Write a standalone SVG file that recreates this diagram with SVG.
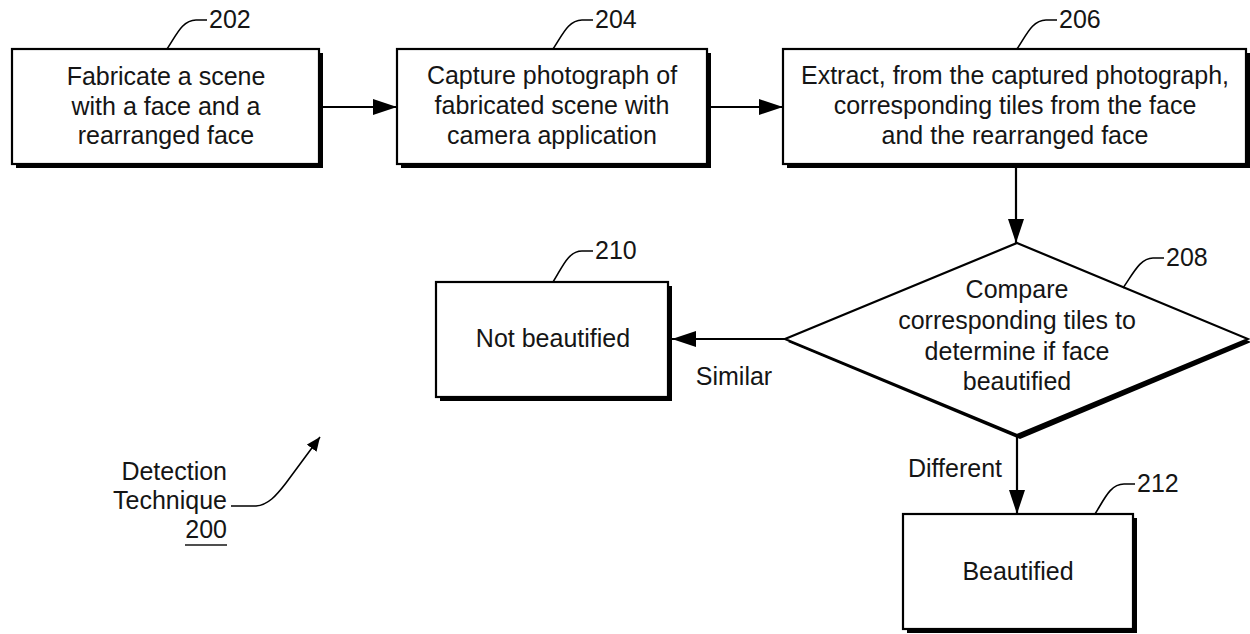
<svg xmlns="http://www.w3.org/2000/svg" width="1250" height="634" viewBox="0 0 1250 634">
  <style>
    text { font-family: "Liberation Sans", Arial, sans-serif; font-size: 25px; fill: #151515; }
    .c { text-anchor: middle; }
    .r { text-anchor: end; }
    .shadow { fill: #000; }
    .box { fill: #fff; stroke: #000; stroke-width: 2.2; }
    .conn { fill: none; stroke: #000; stroke-width: 2.2; }
    .lead { fill: none; stroke: #000; stroke-width: 1.6; }
  </style>
  <defs>
    <marker id="arrow" viewBox="0 0 24 16" refX="24" refY="8" markerWidth="24" markerHeight="16" markerUnits="userSpaceOnUse" orient="auto">
      <path d="M0,0 L24,8 L0,16 Z" fill="#000"/>
    </marker>
    <marker id="arrowSmall" viewBox="0 0 14 12" refX="14" refY="6" markerWidth="14" markerHeight="12" markerUnits="userSpaceOnUse" orient="auto">
      <path d="M0,0 L14,6 L0,12 Z" fill="#000"/>
    </marker>
  </defs>

  <rect width="1250" height="634" fill="#fff"/>

  <!-- connectors -->
  <g id="connectors">
    <path class="conn" d="M323,107 L397,107" marker-end="url(#arrow)"/>
    <path class="conn" d="M711,107 L783,107" marker-end="url(#arrow)"/>
    <path class="conn" d="M1016,168 L1016,243" marker-end="url(#arrow)"/>
    <path class="conn" d="M785,339 L672,339" marker-end="url(#arrow)"/>
    <path class="conn" d="M1017,437 L1017,514" stroke-width="2.6" marker-end="url(#arrow)"/>
    <text class="c" x="734" y="385">Similar</text>
    <text class="c" x="955" y="477">Different</text>
  </g>

  <!-- 202 -->
  <g id="node202">
    <rect class="shadow" x="16" y="53" width="307" height="115"/>
    <rect class="box" x="12" y="49" width="307" height="115"/>
    <text class="c" x="166" y="85">Fabricate a scene</text>
    <text class="c" x="166" y="115">with a face and a</text>
    <text class="c" x="166" y="144">rearranged face</text>
    <path class="lead" d="M167,49 C176,36 182,20 196,20 L207,20"/>
    <text x="209" y="28">202</text>
  </g>

  <!-- 204 -->
  <g id="node204">
    <rect class="shadow" x="401" y="53" width="310" height="115"/>
    <rect class="box" x="397" y="49" width="310" height="115"/>
    <text class="c" x="552" y="84">Capture photograph of</text>
    <text class="c" x="552" y="114">fabricated scene with</text>
    <text class="c" x="552" y="144">camera application</text>
    <path class="lead" d="M553,49 C562,36 568,20 582,20 L593,20"/>
    <text x="595" y="28">204</text>
  </g>

  <!-- 206 -->
  <g id="node206">
    <rect class="shadow" x="787" y="53" width="463" height="115"/>
    <rect class="box" x="783" y="49" width="463" height="115"/>
    <text class="c" x="1015" y="84">Extract, from the captured photograph,</text>
    <text class="c" x="1015" y="114">corresponding tiles from the face</text>
    <text class="c" x="1015" y="144">and the rearranged face</text>
    <path class="lead" d="M1017,49 C1026,36 1032,20 1046,20 L1057,20"/>
    <text x="1059" y="28">206</text>
  </g>

  <!-- 208 decision -->
  <g id="node208">
    <polygon class="shadow" points="1020,246 1251,342 1020,439 788,342"/>
    <polygon class="box" points="1017,243 1248,339 1017,435 785,339"/>
    <text class="c" x="1017" y="298">Compare</text>
    <text class="c" x="1017" y="329">corresponding tiles to</text>
    <text class="c" x="1017" y="360">determine if face</text>
    <text class="c" x="1017" y="390">beautified</text>
    <path class="lead" d="M1123,288 C1133,274 1140,258 1153,258 L1164,258"/>
    <text x="1166" y="266">208</text>
  </g>

  <!-- 210 -->
  <g id="node210">
    <rect class="shadow" x="440" y="286" width="232" height="115"/>
    <rect class="box" x="436" y="282" width="232" height="115"/>
    <text class="c" x="553" y="347">Not beautified</text>
    <path class="lead" d="M553,282 C562,268 568,251 582,251 L593,251"/>
    <text x="595" y="259">210</text>
  </g>

  <!-- 212 -->
  <g id="node212">
    <rect class="shadow" x="907" y="518" width="230" height="115"/>
    <rect class="box" x="903" y="514" width="230" height="115"/>
    <text class="c" x="1018" y="580">Beautified</text>
    <path class="lead" d="M1095,514 C1104,500 1110,484 1124,484 L1135,484"/>
    <text x="1137" y="492">212</text>
  </g>

  <!-- technique label -->
  <g id="label200">
    <text class="r" x="227" y="480">Detection</text>
    <text class="r" x="227" y="509">Technique</text>
    <text class="r" x="227" y="538">200</text>
    <line x1="185" y1="545" x2="227" y2="545" stroke="#151515" stroke-width="1.4"/>
    <path class="lead" d="M231,506 L256,506 C268,505 276,496 286,483 L320,437" marker-end="url(#arrowSmall)"/>
  </g>
</svg>
